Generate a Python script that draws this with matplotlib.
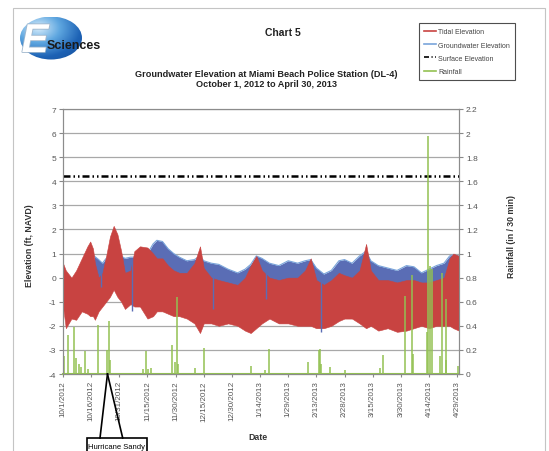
import matplotlib
matplotlib.use("Agg")
import matplotlib.pyplot as plt
import matplotlib.dates as mdates
import matplotlib.patheffects as pe
from matplotlib.patches import Ellipse, Rectangle
from matplotlib.lines import Line2D
from matplotlib.colors import LinearSegmentedColormap
import numpy as np
import pandas as pd

plt.rcParams['font.family'] = ['Liberation Sans', 'DejaVu Sans']
plt.rcParams['axes.unicode_minus'] = False

START = pd.Timestamp("2012-10-01")

# tidal elevation band, upper / lower envelope (days since 10/1/2012, ft NAVD)
tide_day = [0, 1.5, 4.5, 7, 10, 13, 14.5, 16, 17, 19, 21, 23, 25, 27, 29, 31, 33, 36, 38, 41,
            45, 48, 50, 53, 56, 59, 62, 66, 70, 73, 75, 79, 83, 88, 93, 97, 100, 103, 106, 110,
            115, 120, 125, 129, 132, 135, 139, 143, 147, 150, 154, 158, 161.5, 164, 168, 173,
            178, 183, 187, 191, 195, 199, 203, 206, 208, 211]
tide_high = [0.6, 0.3, 0.0, 0.3, 0.8, 1.3, 1.5, 1.2, 0.6, 0.0, 0.2, 0.9, 1.7, 2.15, 1.8, 1.1, 0.2,
             0.3, 1.1, 1.3, 1.25, 1.0, 0.8, 0.8, 0.5, 0.3, 0.2, 0.2, 0.6, 1.3, 0.4, 0.0, -0.1,
             -0.2, -0.3, 0.0, 0.5, 0.9, 0.3, 0.0, -0.1, 0.0, 0.0, 0.3, 0.8, -0.1, -0.3, -0.1,
             0.2, 0.1, 0.0, 0.3, 1.4, 0.3, -0.1, -0.1, -0.2, -0.1, -0.1, -0.2, -0.2, -0.1, 0.0,
             0.8, 1.0, 0.9]
tide_low = [-1.2, -2.1, -1.7, -1.75, -1.4, -1.5, -1.6, -1.6, -1.75, -1.4, -1.2, -1.0, -0.8, -0.5,
            -0.8, -1.0, -1.3, -1.1, -1.2, -1.2, -1.7, -1.6, -1.4, -1.4, -1.5, -1.6, -1.6, -1.7,
            -1.9, -2.3, -1.9, -1.9, -2.0, -1.9, -2.0, -2.2, -2.3, -2.1, -1.9, -1.7, -1.9, -1.9,
            -2.0, -2.0, -2.0, -2.1, -2.1, -2.0, -1.8, -1.7, -1.7, -1.9, -2.1, -2.0, -2.2, -2.1,
            -2.25, -2.2, -2.1, -2.0, -2.1, -2.0, -2.0, -2.0, -2.1, -2.2]

# groundwater elevation band
gw_day = [16.6, 19, 21, 23, 25, 27, 29, 31, 33, 36, 38, 41, 45, 48, 50, 53, 56, 59, 62, 66, 70,
          73, 75, 79, 83, 88, 93, 97, 100, 103, 106, 110, 115, 120, 125, 129, 132, 135, 139,
          143, 147, 150, 154, 158, 161.5, 164, 168, 173, 178, 183, 187, 191, 195, 199, 203,
          206, 208, 211]
gw_high = [0.9, 0.75, 0.6, 0.8, 0.9, 0.9, 0.95, 0.9, 0.8, 0.85, 0.85, 0.9, 1.0, 1.4, 1.55, 1.5,
           1.2, 1.0, 0.85, 0.7, 0.75, 0.9, 0.7, 0.6, 0.55, 0.35, 0.2, 0.35, 0.55, 0.9, 0.8, 0.6,
           0.5, 0.7, 0.6, 0.7, 0.75, 0.4, 0.15, 0.3, 0.7, 0.75, 0.6, 0.9, 1.1, 0.7, 0.5, 0.4,
           0.3, 0.5, 0.45, 0.2, 0.35, 0.5, 0.6, 0.9, 0.95, 0.9]
gw_low = [0.0, -0.1, -0.1, 0.0, 0.2, 0.2, 0.2, 0.1, 0.0, 0.0, 0.1, 0.2, 0.3, 0.5, 0.6, 0.6,
          0.4, 0.2, 0.1, 0.0, 0.0, 0.1, 0.0, -0.1, -0.2, -0.3, -0.4, -0.3, -0.1, 0.1, 0.1,
          -0.1, -0.2, -0.1, -0.1, 0.0, 0.0, -0.3, -0.5, -0.3, 0.0, 0.0, -0.1, 0.1, 0.3, 0.0,
          -0.2, -0.3, -0.4, -0.2, -0.2, -0.4, -0.3, -0.2, -0.1, 0.2, 0.3, 0.3]
# short groundwater drops that show over the tidal band
gw_dip_day = [20, 37, 80, 108, 137.5]
gw_dip_top = [0.6, 0.8, 0.5, 0.6, 0.2]
gw_dip_low = [-0.4, -1.4, -1.3, -0.9, -2.25]

surface_elev = 4.2

# rainfall (in / 30 min)
rain_day = [0.3, 2.7, 5.9, 6.8, 8.4, 9.5, 11.6, 13.5, 18.4, 23.2, 24.3, 25.0, 42.5, 44.0, 45.5,
            47.0, 58.0, 59.5, 60.7, 61.5, 70.5, 75.0, 100.0, 107.5, 110.0, 130.3, 136.2, 136.8,
            137.5, 142.0, 150.0, 168.7, 170.5, 182.4, 186.0, 186.6, 193.7, 194.6, 195.5, 196.7,
            200.9, 201.8, 203.9, 204.3, 210.7]
rain_in = [0.15, 0.32, 0.39, 0.13, 0.08, 0.06, 0.19, 0.04, 0.41, 0.20, 0.44, 0.12, 0.04, 0.19,
           0.04, 0.05, 0.24, 0.10, 0.64, 0.08, 0.05, 0.22, 0.07, 0.03, 0.21, 0.10, 0.20, 0.21,
           0.08, 0.06, 0.03, 0.05, 0.16, 0.65, 0.82, 0.17, 0.35, 1.98, 0.90, 0.87, 0.15, 0.84,
           0.62, 0.12, 0.07]

tick_day = list(range(0, 211, 15))
end_day = 211
sandy_day = 23.7

RED = '#c84341'
BLUE = '#5a6db5'
LIGHT_BLUE = '#79a4da'
GREEN = '#93c152'
GRAY = '#555555'
W, H = 549, 452


def to_date(days):
    return START + pd.to_timedelta(np.asarray(days, dtype=float), unit="D")


def fx(px):
    return px / W


def fy(py):
    return 1 - py / H


fig = plt.figure(figsize=(W / 100, H / 100), dpi=100, facecolor='w')

# outer frame of the report page
fig.add_artist(Rectangle((fx(13), -0.1), fx(545) - fx(13), fy(9) + 0.1, transform=fig.transFigure,
                         fill=False, edgecolor='#c4c4c4', lw=0.8))

ax = fig.add_axes([fx(63), fy(375), fx(459) - fx(63), fy(110) - fy(375)])
ax.set_axisbelow(True)

ax.fill_between(to_date(gw_day), gw_low, gw_high, color=BLUE, lw=0, zorder=2)
ax.plot(to_date(gw_day), gw_high, color=LIGHT_BLUE, lw=0.8, zorder=2)
ax.fill_between(to_date(tide_day), tide_low, tide_high, color=RED, lw=0.4,
                edgecolor=RED, zorder=3)
ax.vlines(to_date(gw_dip_day), gw_dip_low, gw_dip_top, color=BLUE, lw=1.0, zorder=3.5)
ax.axhline(surface_elev, color='black', lw=1.8, dashes=(2.8, 1.2, 0.6, 1.2, 0.6, 1.2), zorder=4)

ax.set_ylim(-4, 7)
ax.set_yticks(range(-4, 8))
ax.set_xlim(to_date([0, end_day]))
ax.set_xticks(to_date(tick_day))
ax.set_xticklabels([f"{d.month}/{d.day}/{d.year}" for d in to_date(tick_day)], rotation=90)
ax.yaxis.grid(True, color='#a8a8a8', lw=0.9)
ax.tick_params(axis='y', direction='out', length=3, color='#888888', labelsize=6,
               labelcolor=GRAY, pad=2)
ax.tick_params(axis='x', direction='out', length=2.5, color='#888888', labelsize=5.8,
               labelcolor=GRAY, pad=2)
for s in ax.spines.values():
    s.set_color('#8c8c8c')
    s.set_linewidth(0.8)

ax2 = ax.twinx()
ax2.vlines(to_date(rain_day), 0, rain_in, color=GREEN, lw=1.1)
ax2.axhline(0, color=GREEN, lw=1.5, clip_on=False)
ax2.set_ylim(0, 2.2)
rticks = np.round(np.arange(0, 2.21, 0.2), 1)
ax2.set_yticks(rticks)
ax2.set_yticklabels([f"{v:g}" for v in rticks])
ax2.tick_params(axis='y', direction='out', length=3, color='#888888', labelsize=6,
                labelcolor=GRAY, pad=2)
for s in ax2.spines.values():
    s.set_color('#8c8c8c')
    s.set_linewidth(0.8)

# labels and titles
fig.text(fx(30), fy(246), "Elevation (ft, NAVD)", rotation=90, ha='center', va='center',
         fontsize=6.3, fontweight='bold', color='#333333')
fig.text(fx(512), fy(236), "Rainfall (in / 30 min)", rotation=90, ha='center', va='center',
         fontsize=6.3, fontweight='bold', color='#333333')
fig.text(fx(258), fy(438), "Date", ha='center', va='center', fontsize=6.3,
         fontweight='bold', color='#333333')
fig.text(fx(283), fy(33), "Chart 5", ha='center', va='center', fontsize=7.5,
         fontweight='bold', color='#222222')
fig.text(fx(266), fy(79.5),
         "Groundwater Elevation at Miami Beach Police Station (DL-4)\nOctober 1, 2012 to April 30, 2013",
         ha='center', va='center', fontsize=6.6, fontweight='bold', color='#222222',
         linespacing=1.25)

handles = [Line2D([], [], color=RED, lw=1.2),
           Line2D([], [], color=LIGHT_BLUE, lw=1.2),
           Line2D([], [], color='black', lw=1.2, dashes=(3, 1.5, 0.7, 1.5, 0.7, 1.5)),
           Line2D([], [], color=GREEN, lw=1.2)]
labels = ["Tidal Elevation", "Groundwater Elevation", "Surface Elevation", "Rainfall"]
leg = fig.legend(handles, labels, loc='upper left', bbox_to_anchor=(fx(416), fy(21)),
                 fontsize=5.0, handlelength=1.7, handletextpad=0.3, labelspacing=0.9,
                 borderpad=0.7, frameon=True, fancybox=False, edgecolor='#222222')
leg.get_frame().set_linewidth(0.8)
for t in leg.get_texts():
    t.set_color('#444444')

# E Sciences logo
lax = fig.add_axes([fx(10), fy(70), fx(110) - fx(10), fy(10) - fy(70)])
lax.set_xlim(10, 110)
lax.set_ylim(70, 10)
lax.axis('off')
ell = Ellipse((51, 39), 62, 43, facecolor='none', edgecolor='none')
lax.add_patch(ell)
yy, xx = np.mgrid[0:1:200j, 0:1:200j]
grad = np.hypot(xx - 0.3, yy - 0.25)
cmap = LinearSegmentedColormap.from_list('logo', ['#d6ecfb', '#5fa7e0', '#1d62b5', '#174f98'])
img = lax.imshow(grad, extent=(20, 82, 60.5, 17.5), cmap=cmap, aspect='auto', origin='upper')
img.set_clip_path(ell)
lax.text(35, 53, "E", color='white', fontsize=29, fontweight='bold', fontstyle='italic',
         ha='center', va='baseline',
         path_effects=[pe.withStroke(linewidth=1.2, foreground='#9fb6cc')])
lax.text(47, 49, "Sciences", fontsize=9, fontweight='bold', color='#1a1a1a', va='baseline')

# Hurricane Sandy callout
apex = ax.transData.transform((mdates.date2num(to_date([sandy_day])[0]), -4))
apex = fig.transFigure.inverted().transform(apex)
for bx in (100, 122.7):
    fig.add_artist(Line2D([fx(bx), apex[0]], [fy(439), apex[1]], color='black', lw=1.2,
                          transform=fig.transFigure))
fig.add_artist(Rectangle((fx(86.7), fy(470)), fx(147.3) - fx(86.7), fy(439) - fy(470),
                         transform=fig.transFigure, facecolor='white', edgecolor='black', lw=1.2))
fig.text(fx(117), fy(448), "Hurricane Sandy", ha='center', va='center', fontsize=5.5,
         color='black')

fig.savefig("out.png", dpi=100)
